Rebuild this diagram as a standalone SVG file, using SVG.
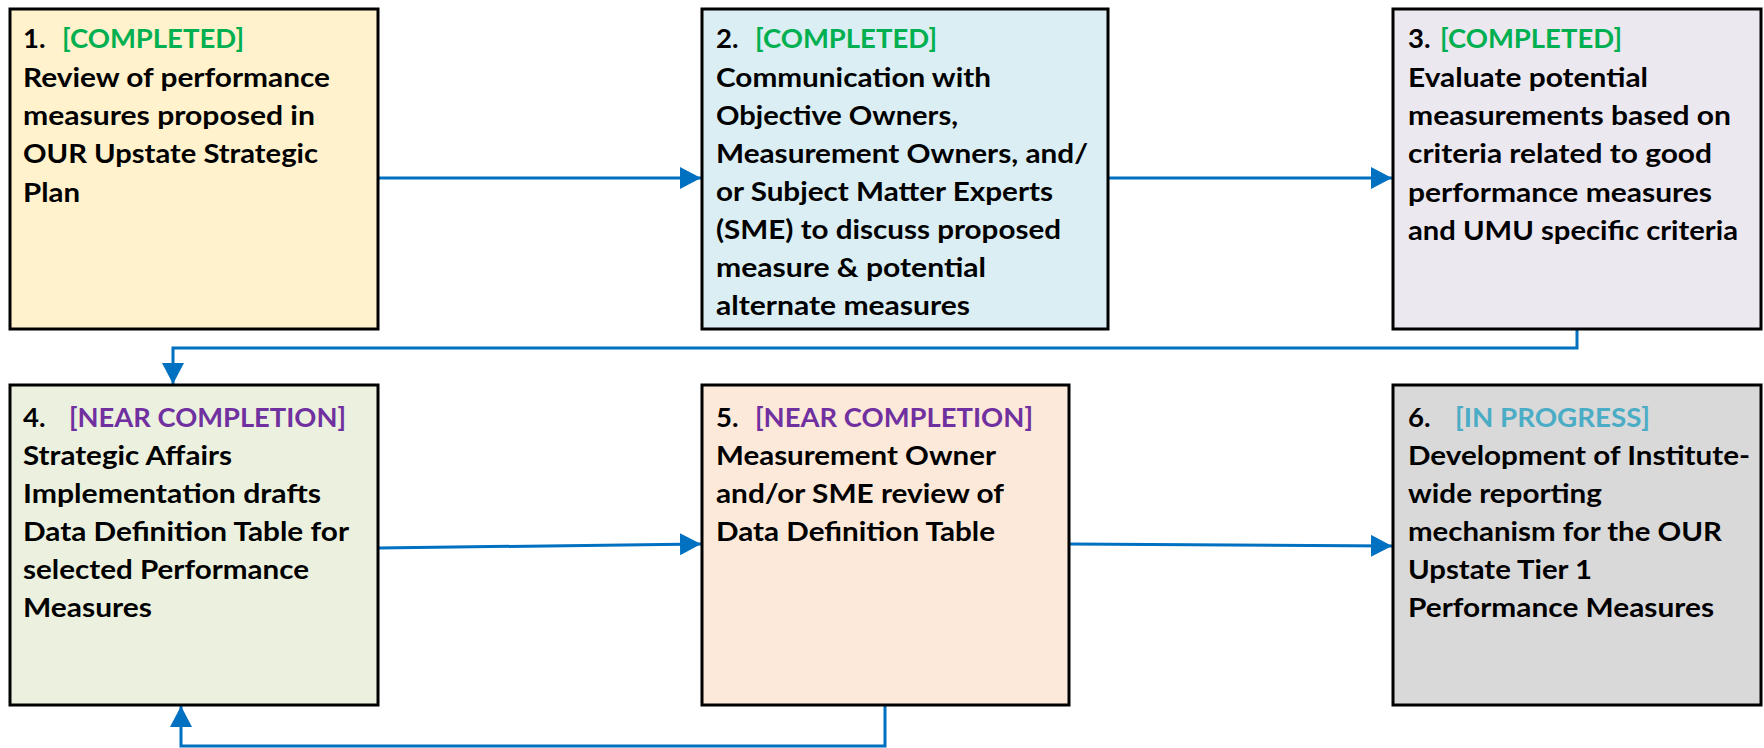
<svg xmlns="http://www.w3.org/2000/svg" width="1764" height="748" viewBox="0 0 1764 748">
<style>
.box{stroke:#000;stroke-width:3}
text{font-family:Lato,"Liberation Sans",sans-serif;font-weight:bold;font-size:27.5px;fill:#000}
.g{fill:#00B050}
.p{fill:#7030A0}
.c{fill:#4BACC6}
.conn{fill:none;stroke:#0070C0;stroke-width:3}
</style>
<defs>
<marker id="ah" markerUnits="userSpaceOnUse" markerWidth="22" markerHeight="22" refX="21" refY="11" orient="auto">
<path d="M0,0 L21,11 L0,22 Z" fill="#0070C0"/>
</marker>
</defs>
<rect width="1764" height="748" fill="#fff"/>
<g id="connectors">
<line class="conn" x1="378" y1="178" x2="701" y2="178" marker-end="url(#ah)"/>
<line class="conn" x1="1108" y1="178" x2="1392" y2="178" marker-end="url(#ah)"/>
<polyline class="conn" points="1577,329 1577,348 173,348 173,384" marker-end="url(#ah)"/>
<line class="conn" x1="378" y1="548" x2="701" y2="544" marker-end="url(#ah)"/>
<line class="conn" x1="1069" y1="544" x2="1392" y2="546" marker-end="url(#ah)"/>
<polyline class="conn" points="885,705 885,746 181,746 181,706" marker-end="url(#ah)"/>
</g>
<g id="node1">
<rect class="box" x="10" y="9" width="368" height="320" fill="#FFF2CC"/>
<text x="23" y="48">1.</text>
<text class="g" x="62" y="48" textLength="182" lengthAdjust="spacingAndGlyphs">[COMPLETED]</text>
<text x="23" y="87" textLength="307" lengthAdjust="spacingAndGlyphs">Review of performance</text>
<text x="23" y="125" textLength="292" lengthAdjust="spacingAndGlyphs">measures proposed in</text>
<text x="23" y="163" textLength="295" lengthAdjust="spacingAndGlyphs">OUR Upstate Strategic</text>
<text x="23" y="202" textLength="57" lengthAdjust="spacingAndGlyphs">Plan</text>
</g>
<g id="node2">
<rect class="box" x="702" y="9" width="406" height="320" fill="#DAEEF3"/>
<text x="716" y="48">2.</text>
<text class="g" x="755" y="48" textLength="182" lengthAdjust="spacingAndGlyphs">[COMPLETED]</text>
<text x="716" y="87" textLength="275" lengthAdjust="spacingAndGlyphs">Communication with</text>
<text x="716" y="125" textLength="242" lengthAdjust="spacingAndGlyphs">Objective Owners,</text>
<text x="716" y="163" textLength="372" lengthAdjust="spacingAndGlyphs">Measurement Owners, and/</text>
<text x="716" y="201" textLength="337" lengthAdjust="spacingAndGlyphs">or Subject Matter Experts</text>
<text x="716" y="239" textLength="345" lengthAdjust="spacingAndGlyphs">(SME) to discuss proposed</text>
<text x="716" y="277" textLength="270" lengthAdjust="spacingAndGlyphs">measure &amp; potential</text>
<text x="716" y="315" textLength="254" lengthAdjust="spacingAndGlyphs">alternate measures</text>
</g>
<g id="node3">
<rect class="box" x="1393" y="9" width="368" height="320" fill="#EBE8F0"/>
<text x="1408" y="48">3.</text>
<text class="g" x="1440" y="48" textLength="182" lengthAdjust="spacingAndGlyphs">[COMPLETED]</text>
<text x="1408" y="87" textLength="240" lengthAdjust="spacingAndGlyphs">Evaluate potential</text>
<text x="1408" y="125" textLength="323" lengthAdjust="spacingAndGlyphs">measurements based on</text>
<text x="1408" y="163" textLength="304" lengthAdjust="spacingAndGlyphs">criteria related to good</text>
<text x="1408" y="202" textLength="304" lengthAdjust="spacingAndGlyphs">performance measures</text>
<text x="1408" y="240" textLength="330" lengthAdjust="spacingAndGlyphs">and UMU specific criteria</text>
</g>
<g id="node4">
<rect class="box" x="10" y="385" width="368" height="320" fill="#EBF1DE"/>
<text x="23" y="427">4.</text>
<text class="p" x="69" y="427" textLength="277" lengthAdjust="spacingAndGlyphs">[NEAR COMPLETION]</text>
<text x="23" y="465" textLength="209" lengthAdjust="spacingAndGlyphs">Strategic Affairs</text>
<text x="23" y="503" textLength="298" lengthAdjust="spacingAndGlyphs">Implementation drafts</text>
<text x="23" y="541" textLength="326" lengthAdjust="spacingAndGlyphs">Data Definition Table for</text>
<text x="23" y="579" textLength="286" lengthAdjust="spacingAndGlyphs">selected Performance</text>
<text x="23" y="617" textLength="129" lengthAdjust="spacingAndGlyphs">Measures</text>
</g>
<g id="node5">
<rect class="box" x="702" y="385" width="367" height="320" fill="#FDE9D9"/>
<text x="716" y="427">5.</text>
<text class="p" x="755" y="427" textLength="278" lengthAdjust="spacingAndGlyphs">[NEAR COMPLETION]</text>
<text x="716" y="465" textLength="280" lengthAdjust="spacingAndGlyphs">Measurement Owner</text>
<text x="716" y="503" textLength="288" lengthAdjust="spacingAndGlyphs">and/or SME review of</text>
<text x="716" y="541" textLength="279" lengthAdjust="spacingAndGlyphs">Data Definition Table</text>
</g>
<g id="node6">
<rect class="box" x="1393" y="385" width="368" height="320" fill="#D9D9D9"/>
<text x="1408" y="427">6.</text>
<text class="c" x="1455" y="427" textLength="195" lengthAdjust="spacingAndGlyphs">[IN PROGRESS]</text>
<text x="1408" y="465" textLength="342" lengthAdjust="spacingAndGlyphs">Development of Institute-</text>
<text x="1408" y="503" textLength="194" lengthAdjust="spacingAndGlyphs">wide reporting</text>
<text x="1408" y="541" textLength="314" lengthAdjust="spacingAndGlyphs">mechanism for the OUR</text>
<text x="1408" y="579" textLength="184" lengthAdjust="spacingAndGlyphs">Upstate Tier 1</text>
<text x="1408" y="617" textLength="306" lengthAdjust="spacingAndGlyphs">Performance Measures</text>
</g>
</svg>
